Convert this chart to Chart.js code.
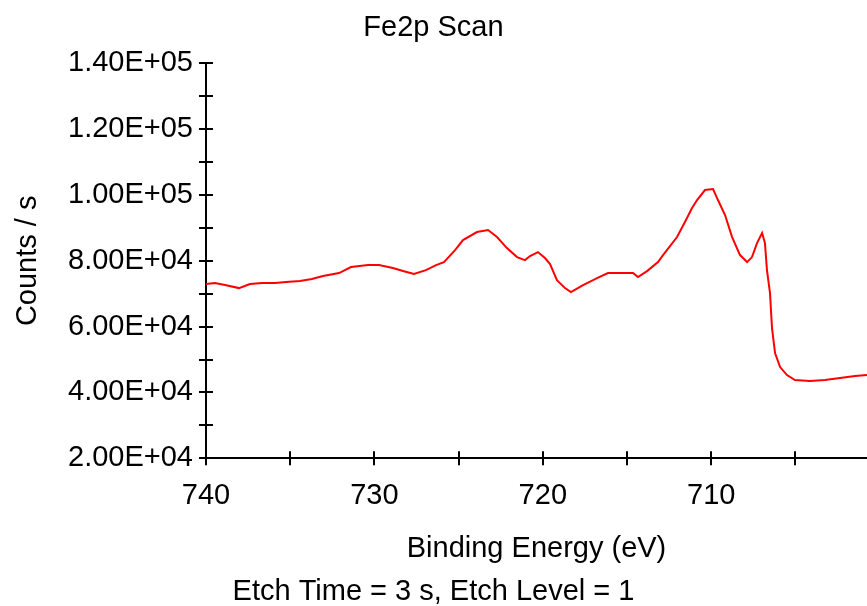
<!DOCTYPE html>
<html>
<head>
<meta charset="utf-8">
<title>Fe2p Scan</title>
<script src="https://cdn.jsdelivr.net/npm/chart.js@4.4.1/dist/chart.umd.min.js"></script>
<style>
  html, body { margin: 0; padding: 0; background: #fff; }
  #wrap { width: 867px; height: 606px; }
</style>
</head>
<body>
<div id="wrap"><canvas id="scan" width="867" height="606"></canvas></div>
<script>
// Fe 2p spectrum, binding energy (eV) vs counts per second
const bindingEnergy = [
  740.00, 739.47, 738.87, 738.04, 737.39, 736.67, 735.90, 735.25, 734.42, 733.71,
  733.05, 732.10, 731.39, 730.38, 729.73, 728.90, 728.30, 727.65, 726.94, 726.34,
  725.87, 725.21, 724.74, 723.91, 723.25, 722.72, 722.13, 721.53, 721.06, 720.76,
  720.29, 719.87, 719.57, 719.16, 718.68, 718.33, 717.61, 716.78, 716.13, 715.42,
  714.64, 714.35, 713.81, 713.16, 712.86, 712.03, 711.56, 711.14, 710.84, 710.37,
  709.89, 709.60, 709.18, 708.76, 708.29, 707.87, 707.58, 707.28, 706.98, 706.81,
  706.69, 706.51, 706.39, 706.21, 705.91, 705.50, 705.03, 704.14, 703.25, 702.35,
  701.46, 700.75
];
const countsPerSec = [
  72930, 73230, 72620, 71710, 72930, 73230, 73230, 73540, 73840, 74450,
  75360, 76270, 78100, 78700, 78700, 77790, 76880, 75970, 77180, 78700,
  79610, 83260, 86300, 88730, 89340, 87210, 83870, 81130, 80220, 81440,
  82650, 80830, 79000, 74140, 71710, 70490, 72620, 74750, 76270, 76270,
  76270, 75060, 76880, 79610, 81740, 87210, 91770, 96030, 98460, 101500,
  101800, 98460, 93900, 87210, 81740, 79610, 81130, 85390, 88430, 85390,
  77180, 70190, 59560, 51960, 47710, 45280, 43760, 43460, 43760, 44370,
  44970, 45280
];
const energyRange = [700.75, 740];
const countRange = [20000, 140000];

const points = bindingEnergy.map((e, i) => ({ x: e, y: countsPerSec[i] }));

// 1.40E+05 style labels
function sciLabel(v) {
  const exp = Math.floor(Math.log10(v));
  const mant = v / Math.pow(10, exp);
  return mant.toFixed(2) + 'E+' + String(exp).padStart(2, '0');
}

// tick marks that cross the axis line on both sides
const crossTicks = {
  id: 'crossTicks',
  afterDraw(chart) {
    const { ctx, scales: { x, y } } = chart;
    const len = 7;
    ctx.save();
    ctx.strokeStyle = '#000';
    ctx.lineWidth = 2;
    ctx.beginPath();
    x.ticks.forEach(t => {
      const px = Math.round(x.getPixelForValue(t.value));
      ctx.moveTo(px, x.top - len);
      ctx.lineTo(px, x.top + len);
    });
    y.ticks.forEach(t => {
      const py = Math.round(y.getPixelForValue(t.value));
      ctx.moveTo(y.right - len, py);
      ctx.lineTo(y.right + len, py);
    });
    ctx.stroke();
    ctx.restore();
  }
};

Chart.defaults.font.family = '"Liberation Sans", Arial, sans-serif';
Chart.defaults.font.size = 29;
Chart.defaults.color = '#000';

new Chart(document.getElementById('scan').getContext('2d'), {
  type: 'line',
  data: {
    datasets: [{
      data: points,
      borderColor: '#ff0000',
      borderWidth: 2,
      pointRadius: 0,
      tension: 0,
      fill: false
    }]
  },
  options: {
    responsive: false,
    animation: false,
    layout: { padding: 0 },
    plugins: {
      legend: { display: false },
      tooltip: { enabled: false },
      title: {
        display: true,
        text: 'Fe2p Scan',
        font: { size: 29, weight: 'normal', lineHeight: 1.2 },
        padding: { top: 10.6, bottom: 17.9 }
      },
      subtitle: {
        display: true,
        position: 'bottom',
        text: 'Etch Time = 3 s, Etch Level = 1',
        font: { size: 29, weight: 'normal', lineHeight: 1 },
        padding: { top: 0, bottom: 0 }
      }
    },
    scales: {
      x: {
        type: 'linear',
        reverse: true,
        min: energyRange[0],
        max: energyRange[1],
        grid: { display: false },
        border: { display: true, color: '#000', width: 2 },
        ticks: {
          stepSize: 5,
          includeBounds: false,
          autoSkip: false,
          maxRotation: 0,
          padding: 12,
          callback: v => (v % 10 === 0 ? String(v) : '')
        },
        title: {
          display: true,
          text: 'Binding Energy (eV)',
          font: { size: 29, lineHeight: 1.2 },
          padding: { top: 0, bottom: 10.6 }
        },
        afterFit: s => { s.height = 118.7; }
      },
      y: {
        min: countRange[0],
        max: countRange[1],
        grid: { display: false },
        border: { display: true, color: '#000', width: 2 },
        ticks: {
          stepSize: 10000,
          autoSkip: false,
          padding: 5,
          callback: v => (v % 20000 === 0 ? sciLabel(v) : '')
        },
        title: {
          display: true,
          text: 'Counts / s',
          font: { size: 29, lineHeight: 1.2 },
          padding: { top: 11, bottom: 0 }
        },
        afterFit: s => { s.width = 206; }
      }
    }
  },
  plugins: [crossTicks]
});
</script>
</body>
</html>
